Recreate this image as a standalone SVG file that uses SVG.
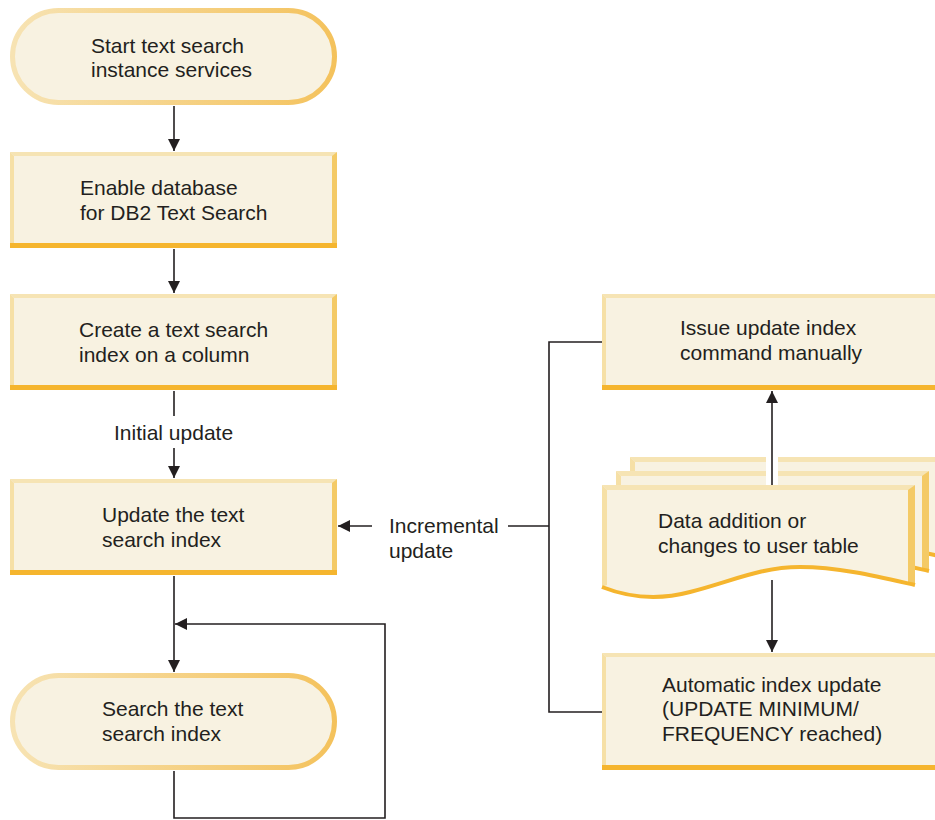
<svg xmlns="http://www.w3.org/2000/svg" width="935" height="820" viewBox="0 0 935 820">
<defs>
<linearGradient id="tg" x1="0" y1="0" x2="1" y2="0">
<stop offset="0" stop-color="#f7e3b3"/>
<stop offset="1" stop-color="#f4c25c"/>
</linearGradient>
<marker id="ah" markerWidth="12" markerHeight="12" viewBox="0 0 12 12" refX="12" refY="6" orient="auto" markerUnits="userSpaceOnUse">
<path d="M0,0 L12,6 L0,12 Z" fill="#231f20"/>
</marker>
<g id="docsheet">
<path d="M602,485 H915 V585 C880,577 840,567 800,567 C760,567 730,582 690,592 C660,600 630,598 602,587 Z" fill="#f8f2e1"/>
<path d="M602,485 H915 L910,490 H607 Z" fill="#f6e4b4"/>
<path d="M602,485 L607,490 V585 L602,587 Z" fill="#f6e0a6"/>
<path d="M915,485 V585 L908,583 V490 Z" fill="#f4ca66"/>
<path d="M602,587 C630,598 660,600 690,592 C730,582 760,567 800,567 C840,567 880,577 915,585" fill="none" stroke="#f5b52e" stroke-width="4"/>
</g>
</defs>
<style>
.t{font-family:"Liberation Sans",Arial,Helvetica,sans-serif;font-size:21px;fill:#231f20}
.ln{fill:none;stroke:#231f20;stroke-width:1.6}
.fill{fill:#f8f2e1}
.bt{fill:#f6e4b4}
.bl{fill:#f6e0a6}
.br{fill:#f4ca66}
.bb{fill:#f5b52e}
.term{fill:#f8f2e1;stroke:url(#tg);stroke-width:5}
</style>

<g id="connectors">
<line class="ln" x1="174" y1="106" x2="174" y2="151" marker-end="url(#ah)"/>
<line class="ln" x1="174" y1="249" x2="174" y2="293" marker-end="url(#ah)"/>
<line class="ln" x1="174" y1="391" x2="174" y2="416"/>
<line class="ln" x1="174" y1="448" x2="174" y2="478" marker-end="url(#ah)"/>
<line class="ln" x1="174" y1="576" x2="174" y2="672" marker-end="url(#ah)"/>
<path class="ln" d="M174,771 V818 H385 V624 H175" marker-end="url(#ah)"/>
<path class="ln" d="M602,342 H549 V712 H602"/>
<line class="ln" x1="549" y1="526" x2="508" y2="526"/>
<line class="ln" x1="372" y1="526" x2="338" y2="526" marker-end="url(#ah)"/>
<line class="ln" x1="772" y1="486" x2="772" y2="391" marker-end="url(#ah)"/>
<line class="ln" x1="772" y1="580" x2="772" y2="652" marker-end="url(#ah)"/>
</g>

<g id="start">
<rect class="term" x="12.5" y="10.5" width="322" height="92" rx="46"/>
<text class="t" x="91" y="53">Start text search</text>
<text class="t" x="91" y="77">instance services</text>
</g>

<g id="enable">
<rect class="fill" x="10" y="152" width="327" height="96"/>
<path class="bt" d="M10,152 H337 L333,156 H14 Z"/>
<path class="bl" d="M10,152 L14,156 V244 L10,248 Z"/>
<path class="br" d="M337,152 V248 L332,244 V156 Z"/>
<rect class="bb" x="10" y="243" width="327" height="5"/>
<text class="t" x="80" y="195">Enable database</text>
<text class="t" x="80" y="220">for DB2 Text Search</text>
</g>

<g id="create">
<rect class="fill" x="10" y="294" width="327" height="96"/>
<path class="bt" d="M10,294 H337 L333,298 H14 Z"/>
<path class="bl" d="M10,294 L14,298 V386 L10,390 Z"/>
<path class="br" d="M337,294 V390 L332,386 V298 Z"/>
<rect class="bb" x="10" y="385" width="327" height="5"/>
<text class="t" x="79" y="337">Create a text search</text>
<text class="t" x="79" y="362">index on a column</text>
</g>

<text class="t" x="114" y="440">Initial update</text>

<g id="update">
<rect class="fill" x="10" y="479" width="327" height="96"/>
<path class="bt" d="M10,479 H337 L333,483 H14 Z"/>
<path class="bl" d="M10,479 L14,483 V571 L10,575 Z"/>
<path class="br" d="M337,479 V575 L332,571 V483 Z"/>
<rect class="bb" x="10" y="570" width="327" height="5"/>
<text class="t" x="102" y="522">Update the text</text>
<text class="t" x="102" y="547">search index</text>
</g>

<text class="t" x="389" y="533">Incremental</text>
<text class="t" x="389" y="558">update</text>

<g id="search">
<rect class="term" x="12.5" y="675.5" width="322" height="92" rx="46"/>
<text class="t" x="102" y="716">Search the text</text>
<text class="t" x="102" y="741">search index</text>
</g>

<g id="issue">
<rect class="fill" x="602" y="294" width="340" height="96"/>
<path class="bt" d="M602,294 H942 V298 H606 Z"/>
<path class="bl" d="M602,294 L606,298 V386 L602,390 Z"/>
<rect class="bb" x="602" y="385" width="340" height="5"/>
<text class="t" x="680" y="335">Issue update index</text>
<text class="t" x="680" y="360">command manually</text>
</g>

<g id="data">
<use href="#docsheet" transform="translate(28,-28)"/>
<use href="#docsheet" transform="translate(14,-14)"/>
<rect x="766" y="450" width="12" height="36" fill="#ffffff"/>
<line class="ln" x1="772" y1="450" x2="772" y2="486"/>
<use href="#docsheet"/>
<text class="t" x="658" y="528">Data addition or</text>
<text class="t" x="658" y="553">changes to user table</text>
</g>

<g id="auto">
<rect class="fill" x="602" y="653" width="340" height="117"/>
<path class="bt" d="M602,653 H942 V657 H606 Z"/>
<path class="bl" d="M602,653 L606,657 V766 L602,770 Z"/>
<rect class="bb" x="602" y="765" width="340" height="5"/>
<text class="t" x="662" y="692">Automatic index update</text>
<text class="t" x="662" y="716">(UPDATE MINIMUM/</text>
<text class="t" x="662" y="741">FREQUENCY reached)</text>
</g>
</svg>
